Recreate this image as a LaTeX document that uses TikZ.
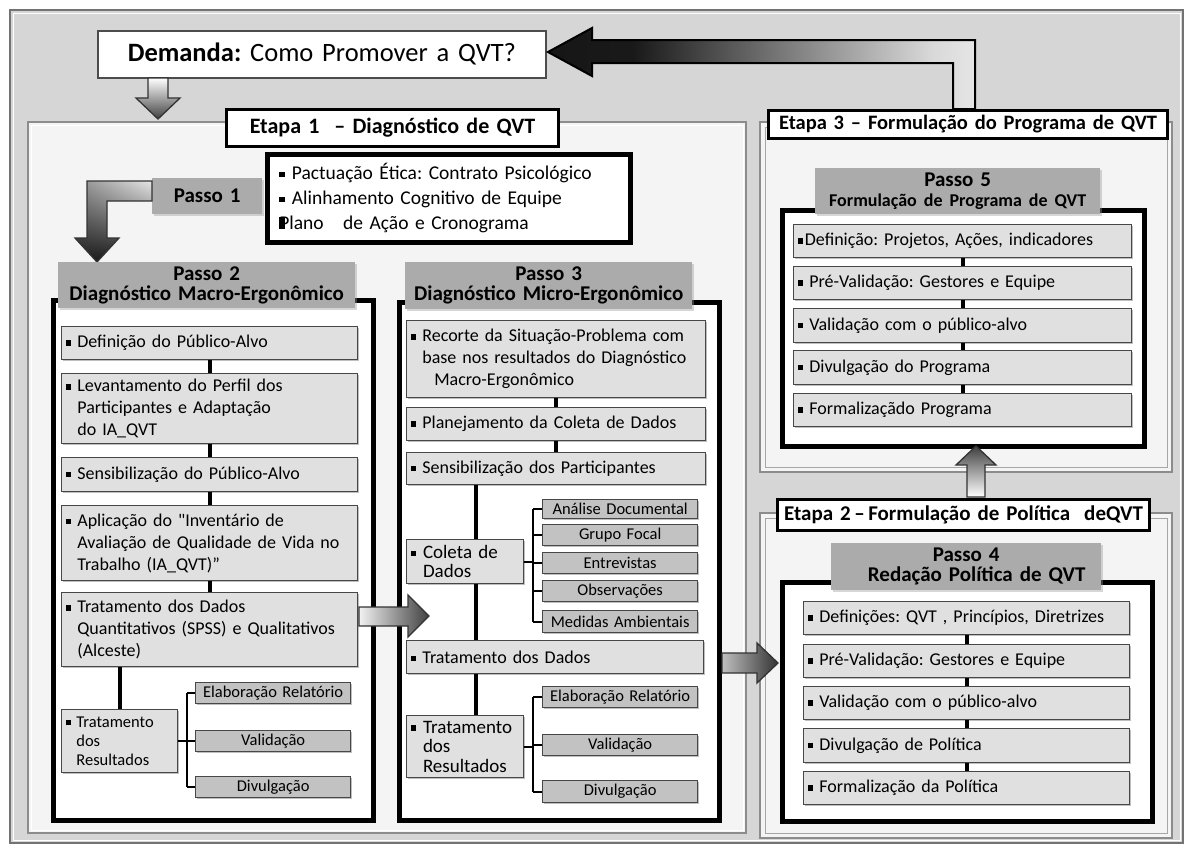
\documentclass[tikz,border=0pt]{standalone}
\usepackage{fontspec}
\setmainfont{Carlito}
\usetikzlibrary{shadows,calc,shadings}
\definecolor{bg}{HTML}{D6D6D6}
\definecolor{panel}{HTML}{F4F4F4}
\definecolor{itemfill}{HTML}{E0E0E0}
\definecolor{subfill}{HTML}{C2C2C2}
\definecolor{hdrfill}{HTML}{ABABAB}
\definecolor{itemdraw}{HTML}{474747}
\frenchspacing
\newcommand{\fs}[2]{\fontsize{#1}{#2}\selectfont}
\newcommand{\bul}{\rule[0.12em]{0.3em}{0.3em}\hspace{0.35em}}
\newcommand{\ind}{\hspace{0.65em}}
\newcommand{\bx}[7]{%
  \pgfmathsetmacro\bw{#4-#2}\pgfmathsetmacro\bh{#5-#3}\pgfmathsetmacro\tw{#4-#2-8}%
  \node[#6, anchor=north west, minimum width=\bw pt, minimum height=\bh pt, text width=\tw pt] (#1) at (#2,#3) {#7};}
\pgfdeclarehorizontalshading{bigarrow}{100bp}{color(0bp)=(black!95); color(35bp)=(black!90); color(70bp)=(black!15); color(85bp)=(white); color(100bp)=(white)}
\begin{document}
\begin{tikzpicture}[x=1pt,y=-1pt,
  item/.style={draw=itemdraw, fill=itemfill, line width=1.3pt, inner xsep=4pt, inner ysep=0pt, align=left, font=\fs{18}{22},
    drop shadow={shadow xshift=1.5pt, shadow yshift=-1.5pt, fill=black!50, opacity=0.5}},
  sub/.style={item, fill=subfill, align=center, font=\fs{16.5}{18}},
  tdr/.style={item, font=\fs{16.5}{19}},
  hdr/.style={fill=hdrfill, inner xsep=4pt, inner ysep=0pt, align=center, font=\bfseries\fs{21}{20},
    drop shadow={shadow xshift=1.5pt, shadow yshift=-1.5pt, fill=black!40, opacity=0.4}},
  frame/.style={draw=black, line width=4.5pt, fill=white, inner sep=0pt},
  etapa/.style={draw=black, line width=3pt, fill=white, inner xsep=4pt, inner ysep=0pt, align=center, font=\bfseries\fs{21.5}{22}},
  conn/.style={black, line width=4pt},
  brk/.style={black, line width=2.2pt},
  blk/.style={draw=black!80, line width=1.3pt}
]
\useasboundingbox (0,0) rectangle (1191,849);
\fill[white] (0,0) rectangle (1191,849);
% outer frame
\draw[fill=bg, draw=black!55, line width=1.5pt] (10,10) rectangle (1183,843);
\draw[white, line width=1pt] (13,13) rectangle (1180,840);
% panels
\draw[fill=panel, draw=black!45, line width=1.5pt] (28,122) rectangle (746,833);
\draw[white, line width=1pt] (31,125) rectangle (743,830);
\draw[fill=panel, draw=black!45, line width=1.5pt] (760,122) rectangle (1172,472);
\draw[black!35, line width=0.8pt] (765,127) rectangle (1167,467);
\draw[fill=panel, draw=black!45, line width=1.5pt] (760,513) rectangle (1172,838);
\draw[black!35, line width=0.8pt] (765,518) rectangle (1167,833);

% Demanda
\bx{dem}{97}{30}{545}{77}{draw=black!70, line width=1.8pt, fill=white, inner xsep=4pt, align=center, font=\fs{26.5}{28}}{\mbox{\textbf{Demanda:} Como Promover a QVT?}}

% big return arrow
\shadedraw[shading=bigarrow, draw=black, line width=2pt]
  (975,109) -- (975,40) -- (592,40) -- (592,28) -- (548,52) -- (592,76) -- (592,63) -- (953,63) -- (953,109) -- cycle;

% down arrow
\shadedraw[top color=white, bottom color=black!75, blk]
  (148,78) -- (168,78) -- (168,98) -- (180,98) -- (158,119) -- (136,98) -- (148,98) -- cycle;

% Etapa titles
\bx{e1}{225}{108}{557}{145}{etapa, font=\bfseries\fs{22}{22}}{\mbox{Etapa 1\ \ – Diagnóstico de QVT}}
\bx{e3}{767}{109}{1166}{137}{etapa, font=\bfseries\fs{20.5}{22}}{\mbox{Etapa 3 – Formulação do Programa de QVT}}
\bx{e2}{776}{498}{1148}{529}{etapa, font=\bfseries\fs{21}{22}}{\mbox{Etapa 2\,–\,Formulação de Política\ \ deQVT}}

% Passo 1
\bx{p1b}{265}{152}{612}{240}{frame, inner xsep=12pt, align=left, font=\fs{19.5}{25}}{\mbox{\bul Pactuação Ética: Contrato Psicológico}\\ \mbox{\bul Alinhamento Cognitivo de Equipe}\\ \mbox{\makebox[0pt][l]{\rule[0.05em]{0.32em}{0.62em}}Plano\quad de Ação e Cronograma}}
\bx{p1}{152}{178}{262}{214}{hdr, font=\bfseries\fs{21}{22}}{Passo 1}
% bent arrow
\shadedraw[upper right=black!10, upper left=black!45, lower left=black!90, lower right=black!90, blk]
  (152,181) -- (87,181) -- (87,238) -- (75,238) -- (97,262) -- (119,238) -- (107,238) -- (107,201) -- (152,201) -- cycle;

% ===== Passo 2 =====
\bx{f2}{51}{298}{371}{818}{frame}{}
\bx{h2}{58}{262}{355}{308}{hdr}{Passo 2\\\mbox{Diagnóstico Macro-Ergonômico}}
\bx{a1}{61}{326}{357}{359}{item}{\bul Definição do Público-Alvo}
\bx{a2}{61}{373}{357}{443}{item}{\bul Levantamento do Perfil dos\\ \ind Participantes e Adaptação\\ \ind do IA\_QVT}
\bx{a3}{61}{457}{357}{491}{item}{\bul Sensibilização do Público-Alvo}
\bx{a4}{61}{505}{357}{580}{item}{\bul Aplicação do \textquotedbl Inventário de\\ \mbox{\ind Avaliação de Qualidade de Vida no}\\ \ind Trabalho (IA\_QVT)”}
\bx{a5}{61}{592}{357}{666}{item}{\bul Tratamento dos Dados\\ \mbox{\ind Quantitativos (SPSS) e Qualitativos}\\ \ind (Alceste)}
\bx{a6}{61}{709}{177}{772}{tdr}{\bul Tratamento\\ \ind dos\\ \ind Resultados}
\bx{as1}{195}{682}{350}{703}{sub}{\mbox{Elaboração Relatório}}
\bx{as2}{195}{730}{350}{751}{sub}{Validação}
\bx{as3}{195}{776}{350}{797}{sub}{Divulgação}
\draw[conn] (a1.south) -- (a2.north);
\draw[conn] (a2.south) -- (a3.north);
\draw[conn] (a3.south) -- (a4.north);
\draw[conn] (a4.south) -- (a5.north);
\draw[conn] (a5.south -| a6.north) -- (a6.north);
\coordinate (b2) at (187,0);
\draw[brk] (as1.west -| b2) -- (as3.west -| b2);
\draw[brk] (a6.east) -- (a6.east -| b2);
\foreach \s in {as1,as2,as3} \draw[brk] (\s.west -| b2) -- (\s.west);

% ===== Passo 3 =====
\bx{f3}{397}{300}{717}{818}{frame}{}
\bx{h3}{405}{262}{692}{309}{hdr}{Passo 3\\\mbox{Diagnóstico Micro-Ergonômico}}
\bx{c1}{406}{320}{705}{397}{item}{\mbox{\bul Recorte da Situação-Problema com}\\ \mbox{\ind base nos resultados do Diagnóstico}\\ \ind\ \ Macro-Ergonômico}
\bx{c2}{406}{407}{705}{440}{item}{\bul Planejamento da Coleta de Dados}
\bx{c3}{406}{452}{705}{484}{item}{\bul Sensibilização dos Participantes}
\bx{c4}{406}{539}{523}{583}{item, font=\fs{19}{19}}{\bul Coleta de\\ \ind Dados}
\bx{cs1}{542}{499}{697}{518}{sub}{\mbox{Análise Documental}}
\bx{cs2}{542}{524}{697}{545}{sub}{Grupo Focal}
\bx{cs3}{542}{552}{697}{573}{sub}{Entrevistas}
\bx{cs4}{542}{580}{697}{601}{sub}{Observações}
\bx{cs5}{542}{610}{697}{632}{sub}{\mbox{Medidas Ambientais}}
\bx{c5}{406}{640}{703}{673}{item}{\bul Tratamento dos Dados}
\bx{c6}{406}{715}{523}{777}{item, font=\fs{19}{19.5}}{\bul Tratamento\\ \ind dos\\ \ind Resultados}
\bx{ct1}{542}{686}{697}{707}{sub}{\mbox{Elaboração Relatório}}
\bx{ct2}{542}{734}{697}{755}{sub}{Validação}
\bx{ct3}{542}{780}{697}{802}{sub}{Divulgação}
\draw[conn] (c1.south) -- (c2.north);
\draw[conn] (c2.south) -- (c3.north);
\coordinate (v3) at (476,0);
\draw[conn] (c3.south -| v3) -- (c4.north -| v3);
\draw[conn] (c4.south -| v3) -- (c5.north -| v3);
\draw[conn] (c5.south -| v3) -- (c6.north -| v3);
\coordinate (b3) at (533,0);
\draw[brk] (cs1.west -| b3) -- (cs5.west -| b3);
\draw[brk] (c4.east) -- (c4.east -| b3);
\foreach \s in {cs1,cs2,cs3,cs4,cs5} \draw[brk] (\s.west -| b3) -- (\s.west);
\draw[brk] (ct1.west -| b3) -- (ct3.west -| b3);
\draw[brk] (c6.east) -- (c6.east -| b3);
\foreach \s in {ct1,ct2,ct3} \draw[brk] (\s.west -| b3) -- (\s.west);

% arrow Passo 2 -> Passo 3
\shadedraw[left color=black!5, right color=black!75, blk]
  (359,607) -- (408,607) -- (408,595) -- (429,616) -- (408,637) -- (408,626) -- (359,626) -- cycle;

% ===== Passo 5 =====
\bx{f5}{780}{208}{1142}{444}{frame}{}
\bx{h5}{815}{168}{1100}{214}{hdr}{Passo 5\\{\fs{18}{19}\mbox{Formulação de Programa de QVT}}}
\bx{d1}{793}{224}{1131}{257}{item}{\rule[0.12em]{0.3em}{0.3em}\hspace{0.1em}Definição: Projetos, Ações, indicadores}
\bx{d2}{793}{266}{1131}{299}{item}{\bul Pré-Validação: Gestores e Equipe}
\bx{d3}{793}{308}{1131}{342}{item}{\bul Validação com o público-alvo}
\bx{d4}{793}{350}{1131}{384}{item}{\bul Divulgação do Programa}
\bx{d5}{793}{393}{1131}{426}{item}{\bul Formalizaçãdo Programa}
\draw[conn] (d1.south) -- (d2.north);
\draw[conn] (d2.south) -- (d3.north);
\draw[conn] (d3.south) -- (d4.north);
\draw[conn] (d4.south) -- (d5.north);

% ===== Passo 4 =====
\bx{f4}{780}{580}{1150}{819}{frame}{}
\bx{h4}{831}{543}{1101}{590}{hdr}{Passo 4\\\mbox{\ \ \ Redação Política de QVT}}
\bx{g1}{803}{601}{1129}{634}{item}{\mbox{\bul Definições: QVT , Princípios, Diretrizes}}
\bx{g2}{803}{644}{1129}{677}{item}{\bul Pré-Validação: Gestores e Equipe}
\bx{g3}{803}{686}{1129}{719}{item}{\bul Validação com o público-alvo}
\bx{g4}{803}{728}{1129}{762}{item}{\bul Divulgação de Política}
\bx{g5}{803}{771}{1129}{804}{item}{\bul Formalização da Política}
\draw[conn] (g1.south) -- (g2.north);
\draw[conn] (g2.south) -- (g3.north);
\draw[conn] (g3.south) -- (g4.north);
\draw[conn] (g4.south) -- (g5.north);

% arrow Passo 3 -> Passo 4
\shadedraw[left color=black!25, right color=black!80, blk]
  (722,653) -- (757,653) -- (757,643) -- (778,663) -- (757,683) -- (757,673) -- (722,673) -- cycle;
% arrow Etapa 2 -> Etapa 3
\shadedraw[bottom color=white, top color=black!75, blk]
  (967,497) -- (967,465) -- (956,465) -- (976,446) -- (996,465) -- (985,465) -- (985,497) -- cycle;
\end{tikzpicture}
\end{document}
